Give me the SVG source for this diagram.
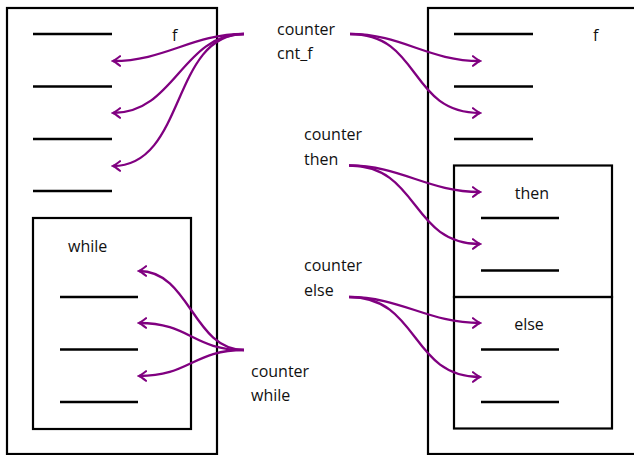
<svg xmlns="http://www.w3.org/2000/svg" width="634" height="455" viewBox="0 0 634 455">
<style>
.box{fill:none;stroke:#000;stroke-width:2.2}
.ln{stroke:#000;stroke-width:2.4}
.t{font-family:"Open Sans","Liberation Sans",sans-serif;font-size:16px;fill:#111}
.c{fill:none;stroke:#800080;stroke-width:2.3;marker-end:url(#ah)}
</style>
<defs>
<marker id="ah" markerUnits="userSpaceOnUse" viewBox="-8 -6 10 12" markerWidth="10" markerHeight="12" refX="0" refY="0" orient="auto">
<path d="M-7,-4.8 Q-2,-0.8 0,0 Q-2,0.8 -7,4.8" fill="none" stroke="#800080" stroke-width="2.1" stroke-linecap="round"/>
</marker>
</defs>
<rect width="634" height="455" fill="#fff"/>
<g id="frame_f_left">
<rect class="box" x="7" y="8" width="210" height="446"/>
<text class="t" x="172" y="41">f</text>
<line class="ln" x1="33" y1="34" x2="112" y2="34"/>
<line class="ln" x1="33" y1="86.5" x2="112" y2="86.5"/>
<line class="ln" x1="33" y1="139" x2="112" y2="139"/>
<line class="ln" x1="33" y1="191" x2="112" y2="191"/>
</g>
<g id="frame_while">
<rect class="box" x="33" y="218" width="158" height="211"/>
<text class="t" x="68" y="252">while</text>
<line class="ln" x1="60" y1="297" x2="138" y2="297"/>
<line class="ln" x1="60" y1="349.5" x2="138" y2="349.5"/>
<line class="ln" x1="60" y1="402" x2="138" y2="402"/>
</g>
<g id="frame_f_right">
<rect class="box" x="428" y="8" width="220" height="446"/>
<text class="t" x="593" y="41">f</text>
<line class="ln" x1="454" y1="34" x2="533" y2="34"/>
<line class="ln" x1="454" y1="86.5" x2="533" y2="86.5"/>
<line class="ln" x1="454" y1="139" x2="533" y2="139"/>
</g>
<g id="frame_then">
<rect class="box" x="454" y="165.5" width="158" height="131.5"/>
<text class="t" x="532" y="199" text-anchor="middle">then</text>
<line class="ln" x1="481" y1="218" x2="559" y2="218"/>
<line class="ln" x1="481" y1="270.5" x2="559" y2="270.5"/>
</g>
<g id="frame_else">
<rect class="box" x="454" y="297" width="158" height="131.5"/>
<text class="t" x="529" y="330" text-anchor="middle">else</text>
<line class="ln" x1="481" y1="349.5" x2="559" y2="349.5"/>
<line class="ln" x1="481" y1="402" x2="559" y2="402"/>
</g>
<g id="label_cnt_f">
<text class="t" x="277" y="35">counter</text>
<text class="t" x="277" y="59">cnt_f</text>
</g>
<g id="label_then">
<text class="t" x="304" y="140">counter</text>
<text class="t" x="304" y="165">then</text>
</g>
<g id="label_else">
<text class="t" x="304" y="271">counter</text>
<text class="t" x="304" y="296">else</text>
</g>
<g id="label_while">
<text class="t" x="251" y="377">counter</text>
<text class="t" x="251" y="401">while</text>
</g>
<g id="connectors">
<path class="c" d="M244,34 C192,34 165,61 113,61"/>
<path class="c" d="M244,34 C182,34 175,113 113,113"/>
<path class="c" d="M244,34 C171,34 186,166 113,166"/>
<path class="c" d="M350,34 C402,34 428,61 480,61"/>
<path class="c" d="M350,34 C422,34 408,113 480,113"/>
<path class="c" d="M349,165.5 C401,165.5 428,192 480,192"/>
<path class="c" d="M349,165.5 C420,165.5 410,244 480,244"/>
<path class="c" d="M349,297 C401,297 428,323 480,323"/>
<path class="c" d="M349,297 C420,297 410,377 480,377"/>
<path class="c" d="M244,350 C193,350 190,271 139,271"/>
<path class="c" d="M244,350 C193,350 190,323 139,323"/>
<path class="c" d="M244,350 C193,350 190,376 139,376"/>
</g>
</svg>
